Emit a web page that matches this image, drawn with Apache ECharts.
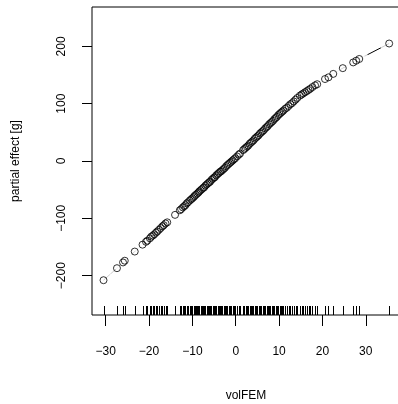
<!DOCTYPE html>
<html>
<head>
<meta charset="utf-8">
<script src="https://cdn.jsdelivr.net/npm/echarts@6/dist/echarts.min.js"></script>
<style>html,body{margin:0;padding:0;background:#fff}#c{width:398px;height:404px}</style>
</head>
<body>
<div id="c"></div>
<script>
// volFEM values (also drawn as rug)
const volFEM = [-30.5,-27.4,-26.0,-25.6,-23.3,-21.5,-20.7,-20.4,-19.8,-19.5,-19.1,-18.8,-18.4,-18.1,-17.7,-17.3,-16.9,-16.6,-16.2,-15.8,-14.0,-12.9,-12.6,
-12.2,-11.9,-11.6,-11.3,-11.0,-10.6,-10.3,-10.0,-9.7,-9.5,-9.2,-8.9,-8.6,-8.4,-8.1,-7.8,-7.5,-7.3,-7.0,-6.7,-6.4,-6.1,-5.9,-5.6,-5.3,-5.0,-4.8,-4.5,-4.2,-3.9,-3.6,-3.4,-3.1,-2.8,-2.5,-2.2,-1.9,-1.6,-1.3,-1.0,-0.7,-0.4,-0.1,0.3,0.7,1.0,
1.7,2.0,2.3,2.6,2.9,3.2,3.5,3.8,4.1,4.4,4.7,5.0,5.3,5.6,5.9,6.2,6.5,6.8,7.1,7.4,7.7,8.0,8.3,8.6,8.9,9.2,9.5,9.8,10.1,10.4,10.7,11.0,11.4,11.8,12.2,12.6,13.0,13.4,13.8,14.2,14.8,15.2,15.6,16.0,16.4,16.8,17.2,17.7,18.3,18.8,
20.6,21.4,22.5,24.7,27.1,27.8,28.5,35.4];
// partial effect [g] at each volFEM value
const partialEffect = [-208,-187,-177,-174,-158,-146,-141,-139,-135,-132,-130,-128,-125,-123,-120,-117,-114,-112,-109,-107,-94,-86,-84,
-81,-79,-77,-74,-72,-69,-67,-65,-63,-61,-59,-57,-55,-53,-51,-49,-47,-46,-43,-41,-39,-37,-36,-33,-31,-29,-28,-25,-23,-21,-19,-18,-16,-14,-12,-9,-7,-5,-3,-1,1,3,5,8,11,13,
19,21,23,25,27,30,32,34,36,39,41,43,45,48,50,52,54,57,59,61,64,66,68,70,73,75,77,80,82,84,86,88,91,93,96,99,101,104,107,110,114,116,118,120,122,124,126,129,132,134,
143,146,152,162,172,175,178,205];
const xTicks = [-30,-20,-10,0,10,20,30];
const yTicks = [-200,-100,0,100,200];
const xMin = -33.16, xMax = 37.9, yMin = -268.7, yMax = 268.7;

const pts = volFEM.map((x,i)=>[x, partialEffect[i]]);
const fmt = v => v < 0 ? '\u2212' + Math.abs(v) : String(v);
const font = '"Liberation Sans", Arial, sans-serif';

const chart = echarts.init(document.getElementById('c'));
chart.setOption({
  animation: false,
  backgroundColor: '#fff',
  grid: {left: 92, top: 7, right: -2, bottom: 89, outerBoundsMode: 'none', containLabel: false, show: true, borderColor: '#000', borderWidth: 1, backgroundColor: 'transparent'},
  xAxis: {
    type: 'value', min: xMin, max: xMax,
    name: 'volFEM', nameLocation: 'middle', nameGap: 75,
    nameTextStyle: {color: '#000', fontSize: 12, fontFamily: font},
    axisLine: {show: false, onZero: false},
    splitLine: {show: false},
    axisTick: {show: true, length: 11, customValues: xTicks, lineStyle: {color: '#000'}},
    axisLabel: {customValues: xTicks, formatter: fmt, color: '#000', fontSize: 12, fontFamily: font, margin: 31}
  },
  yAxis: {
    type: 'value', min: yMin, max: yMax,
    name: 'partial effect [g]', nameLocation: 'middle', nameGap: 70, nameRotate: 90,
    nameTextStyle: {color: '#000', fontSize: 12, fontFamily: font},
    axisLine: {show: false, onZero: false},
    splitLine: {show: false},
    axisTick: {show: true, length: 10, customValues: yTicks, lineStyle: {color: '#000'}},
    axisLabel: {customValues: yTicks, formatter: fmt, rotate: 90, color: '#000', fontSize: 12, fontFamily: font, margin: 24}
  },
  series: [
    {type: 'line', data: pts, showSymbol: false, symbol: 'none', lineStyle: {color: '#000', width: 1}, z: 1, silent: true},
    {type: 'scatter', data: pts, symbol: 'circle', symbolSize: 19, itemStyle: {color: '#fff', borderWidth: 0}, z: 2, silent: true},
    {type: 'scatter', data: pts, symbol: 'circle', symbolSize: 7, itemStyle: {color: 'rgba(0,0,0,0)', borderColor: '#000', borderWidth: 1}, z: 3, silent: true},
    {type: 'custom', data: volFEM.map(x=>[x]), z: 4, silent: true,
      renderItem: function(params, api){
        const p = api.coord([api.value(0), yMin]);
        const x = Math.round(p[0]) + 0.5;
        return {type: 'line', shape: {x1: x, y1: p[1], x2: x, y2: p[1] - 9}, style: {stroke: '#000', lineWidth: 1}};
      },
      encode: {x: 0}
    }
  ]
});
</script>
</body>
</html>
